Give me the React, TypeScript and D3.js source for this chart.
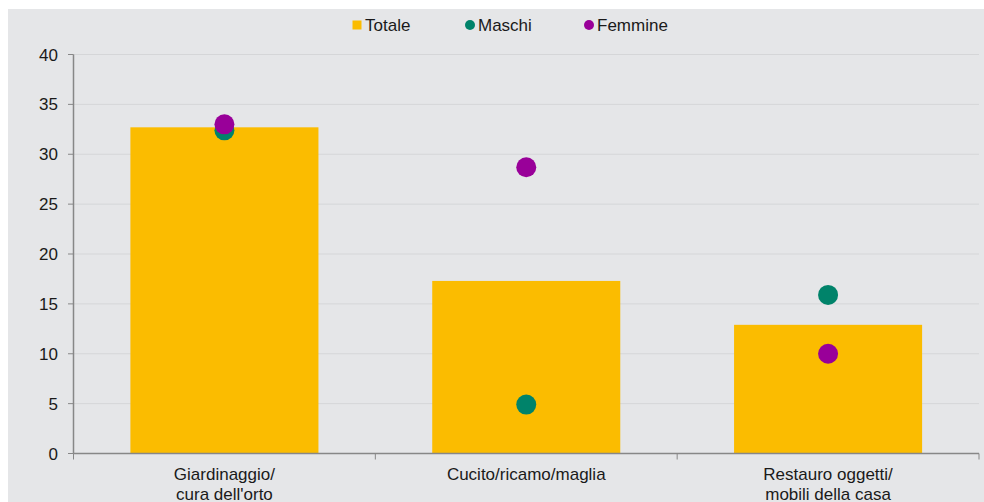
import React from "react";
import * as d3 from "d3";

const categories = ["Giardinaggio/\ncura dell'orto", "Cucito/ricamo/maglia", "Restauro oggetti/\nmobili della casa"];
const totale = [32.7, 17.3, 12.9];
const maschi = [32.4, 4.9, 15.9];
const femmine = [33.0, 28.7, 10.0];
const yTicks = [0, 5, 10, 15, 20, 25, 30, 35, 40];

const W = 984;
const H = 502;
const left = 73.5;
const right = 979;
const top = 54.5;
const bottom = 453.5;
const FONT = "'Liberation Sans', Arial, sans-serif";
const C_BAR = "#FBBC00";
const C_M = "#00836A";
const C_F = "#990099";
const AXIS = "#878787";
const GRID = "#D5D6D8";

export default function App() {
  const x = d3.scaleBand<number>().domain(d3.range(categories.length)).range([left, right]).padding(0);
  const y = d3.scaleLinear().domain([0, 40]).range([bottom, top]);
  const bw = x.bandwidth();
  const barW = bw * 0.623;

  return (
    <svg width={W} height={H} style={{ position: "absolute", left: 0, top: 0, fontFamily: FONT }}>
      <rect x={0} y={0} width={W} height={H} fill="#ffffff" />
      <rect x={8} y={9} width={W - 8} height={H - 9} fill="#E5E6E8" />
      {yTicks.map((t) => (
        <g key={t}>
          {t > 0 && <line x1={left} x2={right} y1={y(t)} y2={y(t)} stroke={GRID} strokeWidth={1} />}
          <line x1={left - 5.5} x2={left} y1={y(t)} y2={y(t)} stroke={AXIS} strokeWidth={1} />
          <text x={58} y={y(t) + 6} textAnchor="end" fontSize={17} fill="#1a1a1a">{t}</text>
        </g>
      ))}
      {totale.map((v, i) => (
        <rect key={i} x={(x(i) as number) + (bw - barW) / 2} y={y(v)} width={barW} height={y(0) - y(v)} fill={C_BAR} />
      ))}
      <line x1={left} x2={left} y1={top} y2={bottom} stroke={AXIS} strokeWidth={1.5} />
      <line x1={left} x2={right} y1={bottom} y2={bottom} stroke={AXIS} strokeWidth={1.5} />
      {d3.range(categories.length + 1).map((i) => {
        const xx = i < categories.length ? (x(i) as number) : right;
        return <line key={i} x1={xx} x2={xx} y1={bottom} y2={bottom + 6} stroke={AXIS} strokeWidth={1} />;
      })}
      {categories.map((c, i) => (
        <text key={i} x={(x(i) as number) + bw / 2} textAnchor="middle" fontSize={17} fill="#1a1a1a">
          {c.split("\n").map((l, j) => (
            <tspan key={j} x={(x(i) as number) + bw / 2} y={480 + j * 20}>{l}</tspan>
          ))}
        </text>
      ))}
      {maschi.map((v, i) => (
        <circle key={"m" + i} cx={(x(i) as number) + bw / 2} cy={y(v)} r={10} fill={C_M} />
      ))}
      {femmine.map((v, i) => (
        <circle key={"f" + i} cx={(x(i) as number) + bw / 2} cy={y(v)} r={10} fill={C_F} />
      ))}
      <g fontSize={17} fill="#1a1a1a">
        <rect x={352.5} y={20.5} width={9} height={9} fill={C_BAR} />
        <text x={365} y={31}>Totale</text>
        <circle cx={470} cy={25} r={5} fill={C_M} />
        <text x={478} y={31}>Maschi</text>
        <circle cx={589} cy={25} r={5} fill={C_F} />
        <text x={597} y={31}>Femmine</text>
      </g>
    </svg>
  );
}
